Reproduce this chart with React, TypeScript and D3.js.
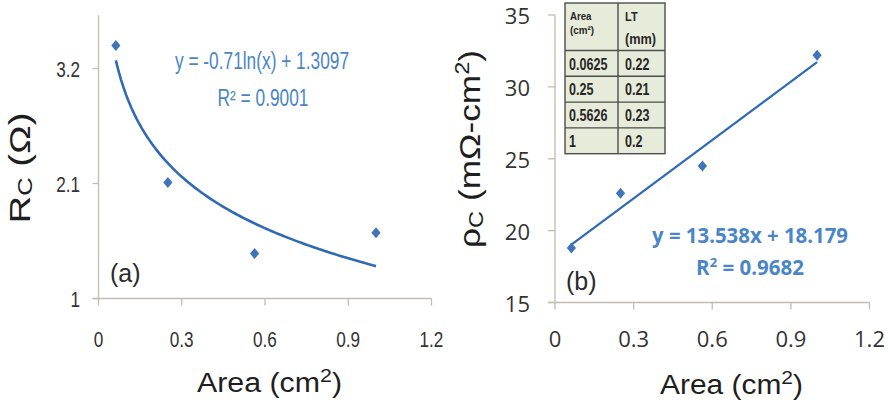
import React from "react";
import * as d3 from "d3";

// Contact area of the samples (cm²)
const areas = [0.0625, 0.25, 0.5625, 1];
// Contact resistance R_C (Ω)
const rcValues = [3.42, 2.11, 1.43, 1.63];
// Specific contact resistivity ρ_C (mΩ·cm²)
const rhoValues = [18.8, 22.6, 24.5, 32.2];

const xTicks = [0, 0.3, 0.6, 0.9, 1.2];
const rcTicks = [1, 2.1, 3.2];
const rhoTicks = [15, 20, 25, 30, 35];

// Inset table
const tableAreas = ["0.0625", "0.25", "0.5626", "1"];
const tableLT = ["0.22", "0.21", "0.23", "0.2"];

// Trendline coefficients
const logSlope = -0.71;
const logIntercept = 1.3097;
const linSlope = 13.538;
const linIntercept = 18.179;

const W = 890;
const H = 405;

const SANS = "'Liberation Sans', Arial, sans-serif";
const HUMAN = "'Open Sans', 'Liberation Sans', sans-serif";

const AXIS = "#c4bbb3";
const TICK_TEXT = "#333333";
const LINE = "#2f6ab3";
const MARK = "#3f74ba";
const EQ = "#4a85c6";

const diamond = "M0,-5.5L4.6,0L0,5.5L-4.6,0Z";

let measureCtx: CanvasRenderingContext2D | null = null;
function measure(s: string, size: number, bold: boolean): number {
  if (!measureCtx) measureCtx = document.createElement("canvas").getContext("2d");
  if (!measureCtx) return s.length * size * 0.55;
  measureCtx.font = `${bold ? "bold " : ""}${size}px 'Liberation Sans', Arial, sans-serif`;
  return measureCtx.measureText(s).width;
}

type CondProps = {
  x: number;
  y: number;
  sx?: number;
  len?: number;
  anchor?: "start" | "middle" | "end";
  size: number;
  fill: string;
  bold?: boolean;
  children: string;
};

// Narrow text: a regular sans squeezed to a fraction of its natural width
function Cond({ x, y, sx = 0.8, len, anchor = "start", size, fill, bold = false, children }: CondProps) {
  const length = len ?? measure(children, size, bold) * sx;
  return (
    <text
      x={x}
      y={y}
      textAnchor={anchor}
      fontFamily={SANS}
      fontSize={size}
      fontWeight={bold ? "bold" : "normal"}
      fill={fill}
      textLength={length}
      lengthAdjust="spacingAndGlyphs"
    >
      {children}
    </text>
  );
}

export default function App() {
  // Panel (a)
  const xa = d3.scaleLinear().domain([0, 1.2]).range([98.5, 431.5]);
  const ya = d3.scaleLinear().domain([1, 3.2]).range([298.5, 68.5]);
  // Panel (b)
  const xb = d3.scaleLinear().domain([0, 1.2]).range([555, 869.5]);
  const yb = d3.scaleLinear().domain([15, 35]).range([302.5, 15]);

  const logFit = (x: number) => logSlope * Math.log(x) + logIntercept;
  const linFit = (x: number) => linSlope * x + linIntercept;

  const xMin = d3.min(areas) as number;
  const xMax = d3.max(areas) as number;
  const curveXs = d3.range(0, 101).map((i) => xMin + ((xMax - xMin) * i) / 100);

  const logPath = d3
    .line<number>()
    .x((d) => xa(d))
    .y((d) => ya(logFit(d)))(curveXs);
  const linPath = d3
    .line<number>()
    .x((d) => xb(d))
    .y((d) => yb(linFit(d)))([xMin, xMax]);

  // Table geometry
  const tLeft = 565;
  const tRight = 665;
  const tDiv = 618;
  const tTop = 3;
  const headerBottom = 50.5;
  const rowH = 25.8;
  const rowBand = d3
    .scaleBand<number>()
    .domain(d3.range(tableAreas.length))
    .range([headerBottom, headerBottom + rowH * tableAreas.length]);
  const tBottom = headerBottom + rowH * tableAreas.length;
  const TB = "#4d4d4d";
  const TT = "#262626";

  return (
    <svg width={W} height={H} style={{ display: "block", position: "absolute", left: 0, top: 0 }}>
      <rect width={W} height={H} fill="#ffffff" />

      {/* ---------- Panel (a) ---------- */}
      <g>
        <line x1={xa(0)} x2={xa(0)} y1={ya(1)} y2={ya(3.71)} stroke={AXIS} strokeWidth={1.3} />
        <line x1={xa(0) - 6} x2={xa(1.2)} y1={ya(1)} y2={ya(1)} stroke={AXIS} strokeWidth={1.3} />
        {xTicks.map((t) => (
          <g key={`xa${t}`}>
            <line x1={xa(t)} x2={xa(t)} y1={ya(1)} y2={ya(1) + 7} stroke={AXIS} strokeWidth={1.3} />
            <Cond x={xa(t)} y={347} anchor="middle" size={22} sx={0.78} fill={TICK_TEXT}>
              {String(t)}
            </Cond>
          </g>
        ))}
        {rcTicks.map((t) => (
          <g key={`ya${t}`}>
            <line x1={xa(0) - 6} x2={xa(0)} y1={ya(t)} y2={ya(t)} stroke={AXIS} strokeWidth={1.3} />
            <Cond x={80} y={ya(t) + 8.5} anchor="end" size={22} sx={0.78} fill={TICK_TEXT}>
              {String(t)}
            </Cond>
          </g>
        ))}

        <path d={logPath || ""} fill="none" stroke={LINE} strokeWidth={2.6} />
        {areas.map((a, i) => (
          <path key={`pa${i}`} d={diamond} transform={`translate(${xa(a)},${ya(rcValues[i])})`} fill={MARK} />
        ))}

        <Cond x={262} y={69} anchor="middle" size={23} len={174} fill={EQ}>
          y = -0.71ln(x) + 1.3097
        </Cond>
        <Cond x={263} y={106} anchor="middle" size={23} len={91} fill={EQ}>
          R² = 0.9001
        </Cond>

        <text x={110} y={282} fontFamily={SANS} fontSize={25} fill="#2a2a2a">
          (a)
        </text>

        <text x={197} y={392} fontFamily={SANS} fontSize={27} fill="#1e1e1e" textLength={145} lengthAdjust="spacingAndGlyphs">
          Area (cm<tspan fontSize={19} dy={-10}>2</tspan>
          <tspan dy={10}>)</tspan>
        </text>

        <text transform="translate(30,168) rotate(-90)" textAnchor="middle" fontFamily={SANS} fontSize={30} fill="#1e1e1e" textLength={111} lengthAdjust="spacingAndGlyphs">
          R<tspan fontSize={20} dy={2}>C</tspan>
          <tspan dy={-2}> (Ω)</tspan>
        </text>
      </g>

      {/* ---------- Panel (b) ---------- */}
      <g>
        <line x1={xb(0)} x2={xb(0)} y1={yb(15)} y2={yb(35)} stroke={AXIS} strokeWidth={1.3} />
        <line x1={xb(0) - 7} x2={xb(1.2)} y1={yb(15)} y2={yb(15)} stroke={AXIS} strokeWidth={1.3} />
        {xTicks.map((t) => (
          <g key={`xb${t}`}>
            <line x1={xb(t)} x2={xb(t)} y1={yb(15)} y2={yb(15) + 7} stroke={AXIS} strokeWidth={1.3} />
            <text x={xb(t)} y={347} textAnchor="middle" fontFamily={HUMAN} fontSize={22} fill={TICK_TEXT}>
              {String(t)}
            </text>
          </g>
        ))}
        {rhoTicks.map((t) => (
          <g key={`yb${t}`}>
            <line x1={xb(0) - 7} x2={xb(0)} y1={yb(t)} y2={yb(t)} stroke={AXIS} strokeWidth={1.3} />
            <text x={530} y={yb(t) + 9} textAnchor="end" fontFamily={HUMAN} fontSize={22} fill={TICK_TEXT}>
              {String(t)}
            </text>
          </g>
        ))}

        <path d={linPath || ""} fill="none" stroke={LINE} strokeWidth={2.2} />
        {areas.map((a, i) => (
          <path key={`pb${i}`} d={diamond} transform={`translate(${xb(a)},${yb(rhoValues[i])})`} fill={MARK} />
        ))}

        {/* inset table */}
        <rect x={tLeft} y={tTop} width={tRight - tLeft} height={tBottom - tTop} fill="#e7ecda" stroke={TB} strokeWidth={1.4} />
        <line x1={tDiv} x2={tDiv} y1={tTop} y2={tBottom} stroke={TB} strokeWidth={1.4} />
        <line x1={tLeft} x2={tRight} y1={headerBottom} y2={headerBottom} stroke={TB} strokeWidth={1.4} />
        {tableAreas.map((_, i) =>
          i > 0 ? (
            <line key={`tl${i}`} x1={tLeft} x2={tRight} y1={rowBand(i)} y2={rowBand(i)} stroke={TB} strokeWidth={1.4} />
          ) : null
        )}
        <Cond x={570} y={19.5} size={11.5} sx={0.84} bold fill={TT}>
          Area
        </Cond>
        <Cond x={570} y={33.5} size={11.5} len={24} bold fill={TT}>
          (cm²)
        </Cond>
        <Cond x={625} y={21} size={13.5} sx={0.82} bold fill={TT}>
          LT
        </Cond>
        <Cond x={625} y={44} size={15.5} sx={0.82} bold fill={TT}>
          (mm)
        </Cond>
        {tableAreas.map((a, i) => (
          <g key={`tr${i}`}>
            <Cond x={569} y={(rowBand(i) as number) + 19} size={16.5} sx={0.76} bold fill={TT}>
              {a}
            </Cond>
            <Cond x={625} y={(rowBand(i) as number) + 19} size={16.5} sx={0.76} bold fill={TT}>
              {tableLT[i]}
            </Cond>
          </g>
        ))}

        <text x={750} y={243} textAnchor="middle" fontFamily={HUMAN} fontWeight="bold" fontSize={20.5} fill={EQ} textLength={196} lengthAdjust="spacingAndGlyphs">
          y = 13.538x + 18.179
        </text>
        <text x={750} y={275} textAnchor="middle" fontFamily={HUMAN} fontWeight="bold" fontSize={20.5} fill={EQ}>
          R<tspan fontSize={13} dy={-8}>2</tspan>
          <tspan dy={8}> = 0.9682</tspan>
        </text>

        <text x={566} y={290} fontFamily={SANS} fontSize={25} fill="#2a2a2a">
          (b)
        </text>

        <text x={660} y={394} fontFamily={SANS} fontSize={27} fill="#1e1e1e" textLength={143} lengthAdjust="spacingAndGlyphs">
          Area (cm<tspan fontSize={19} dy={-10}>2</tspan>
          <tspan dy={10}>)</tspan>
        </text>

        <text transform="translate(480,149) rotate(-90)" textAnchor="middle" fontFamily={SANS} fontSize={30} fill="#1e1e1e" textLength={198} lengthAdjust="spacingAndGlyphs">
          ρ<tspan fontSize={20} dy={3}>C</tspan>
          <tspan dy={-3}> (mΩ-cm</tspan>
          <tspan fontSize={20} dy={-11}>2</tspan>
          <tspan dy={11}>)</tspan>
        </text>
      </g>
    </svg>
  );
}
